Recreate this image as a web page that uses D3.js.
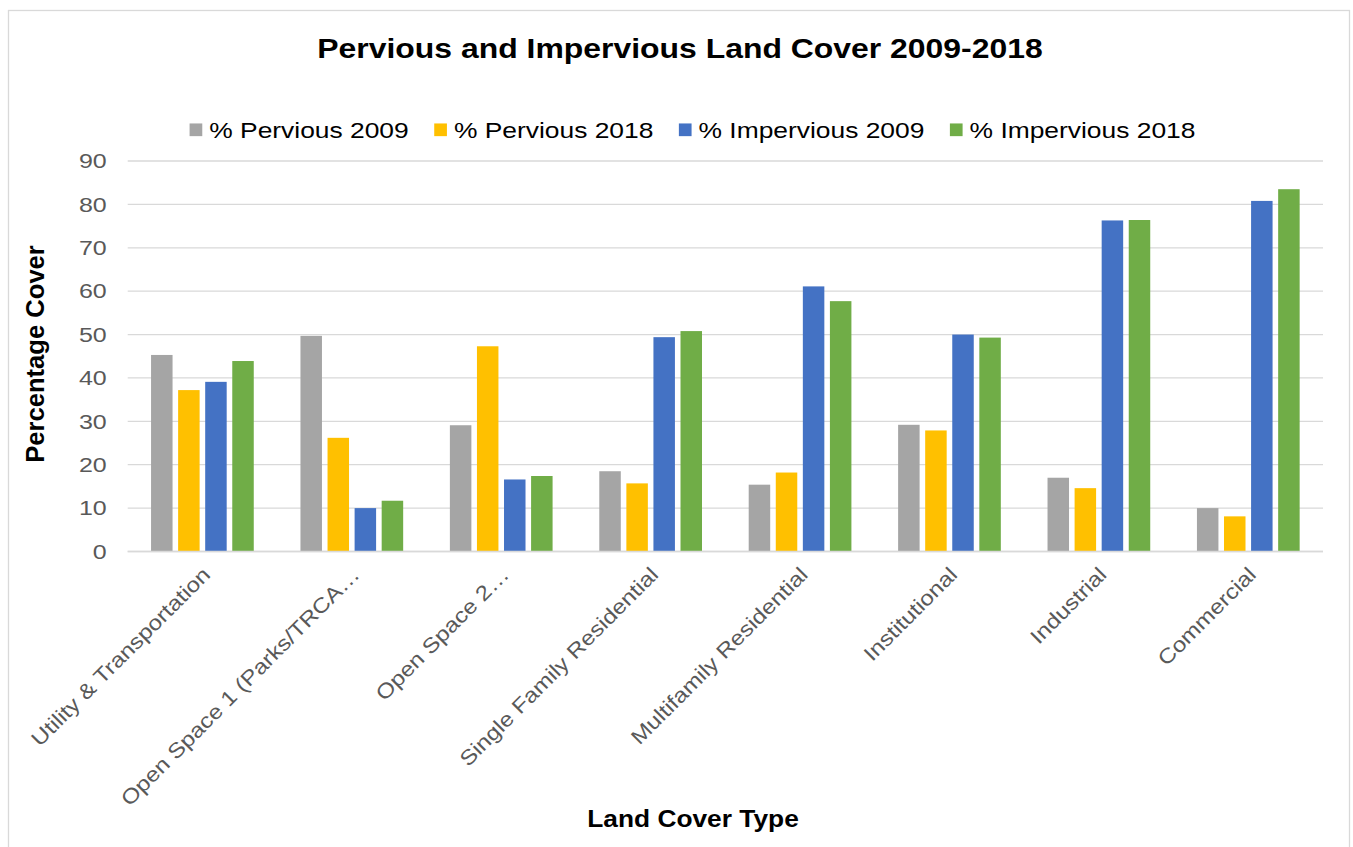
<!DOCTYPE html>
<html>
<head>
<meta charset="utf-8">
<script src="https://cdn.jsdelivr.net/npm/d3@7"></script>
<style>
  html, body { margin: 0; padding: 0; background: #fff; }
  svg { display: block; font-family: "Liberation Sans", Arial, sans-serif; }
</style>
</head>
<body>
<svg id="chart" width="1353" height="847"></svg>
<script>
// ---- data ----
const categories = ["Utility & Transportation", "Open Space 1 (Parks/TRCA\u2026", "Open Space 2\u2026",
  "Single Family Residential", "Multifamily Residential", "Institutional", "Industrial", "Commercial"];
const seriesNames = ["% Pervious 2009", "% Pervious 2018", "% Impervious 2009", "% Impervious 2018"];
const pervious2009   = [45.3, 49.7, 29.1, 18.5, 15.4, 29.2, 17.0, 10.0];
const pervious2018   = [37.2, 26.2, 47.3, 15.7, 18.2, 27.9, 14.6, 8.1];
const impervious2009 = [39.1, 10.0, 16.6, 49.4, 61.1, 50.0, 76.3, 80.8];
const impervious2018 = [43.9, 11.7, 17.4, 50.8, 57.7, 49.3, 76.4, 83.5];
const yTicks = [0, 10, 20, 30, 40, 50, 60, 70, 80, 90];
const colors = ["#A5A5A5", "#FFC000", "#4472C4", "#70AD47"];

const seriesValues = [pervious2009, pervious2018, impervious2009, impervious2018];

const svg = d3.select("#chart");

// chart border
svg.append("rect").attr("x", 8.5).attr("y", 10.5).attr("width", 1341).attr("height", 860)
  .attr("fill", "#fff").attr("stroke", "#d9d9d9").attr("stroke-width", 1.3);

const plot = { left: 127.7, right: 1323, top: 161, bottom: 551.5 };

const x0 = d3.scaleBand().domain(categories).range([plot.left, plot.right])
  .paddingInner(0.3126).paddingOuter(0.1563);
const x1 = d3.scaleBand().domain(seriesNames).range([0, x0.bandwidth()])
  .paddingInner(0.206).paddingOuter(0);
const y = d3.scaleLinear().domain([0, 90]).range([plot.bottom, plot.top]);

// gridlines
svg.append("g").selectAll("line").data(yTicks).join("line")
  .attr("x1", plot.left).attr("x2", plot.right)
  .attr("y1", d => y(d)).attr("y2", d => y(d))
  .attr("stroke", "#d9d9d9").attr("stroke-width", 1.3);

// y tick labels
svg.append("g").selectAll("text").data(yTicks).join("text")
  .attr("transform", d => `translate(106.7,${y(d) + 7.3}) scale(1.22,1)`)
  .attr("text-anchor", "end").attr("font-size", 20.5).attr("fill", "#595959")
  .text(d => d);

// bars
const groups = svg.append("g").selectAll("g").data(categories).join("g")
  .attr("transform", d => `translate(${x0(d)},0)`);
groups.selectAll("rect").data((c, i) => seriesNames.map((s, k) => ({ s, k, v: seriesValues[k][i] })))
  .join("rect")
  .attr("x", d => x1(d.s)).attr("width", x1.bandwidth())
  .attr("y", d => y(d.v)).attr("height", d => y(0) - y(d.v))
  .attr("fill", d => colors[d.k]);

// x axis line
svg.append("line").attr("x1", plot.left).attr("x2", plot.right)
  .attr("y1", y(0)).attr("y2", y(0)).attr("stroke", "#d9d9d9").attr("stroke-width", 1.3);

// category labels
svg.append("g").selectAll("text").data(categories).join("text")
  .attr("transform", d => `translate(${x0(d) + x0.bandwidth() / 2 + 9},576) rotate(-45) scale(1.16,1)`)
  .attr("text-anchor", "end").attr("font-size", 20.8).attr("fill", "#595959")
  .text(d => d);

// title
svg.append("text").attr("transform", "translate(680,58) scale(1.14,1)")
  .attr("text-anchor", "middle").attr("font-size", 28).attr("font-weight", "bold").attr("fill", "#000")
  .text("Pervious and Impervious Land Cover 2009-2018");

// axis titles
svg.append("text").attr("transform", "translate(43.5,354) rotate(-90)")
  .attr("text-anchor", "middle").attr("font-size", 25.6).attr("font-weight", "bold").attr("fill", "#000")
  .text("Percentage Cover");
svg.append("text").attr("transform", "translate(693,826.7) scale(1.13,1)")
  .attr("text-anchor", "middle").attr("font-size", 23.3).attr("font-weight", "bold").attr("fill", "#000")
  .text("Land Cover Type");

// legend
const legStretch = 1.2, legFont = 22, sq = 12.7, sqGap = 7, itemGap = 25.5;
const leg = svg.append("g");
const items = seriesNames.map((name, k) => {
  const g = leg.append("g");
  g.append("rect").attr("x", 0).attr("y", -sq / 2).attr("width", sq).attr("height", sq).attr("fill", colors[k]);
  const t = g.append("text").attr("font-size", legFont).attr("fill", "#000")
    .attr("transform", `translate(${sq + sqGap},7.8) scale(${legStretch},1)`).text(name);
  const w = sq + sqGap + t.node().getComputedTextLength() * legStretch;
  return { g, w };
});
const totalW = d3.sum(items, d => d.w) + itemGap * (items.length - 1);
let cx = 692.5 - totalW / 2;
items.forEach(it => { it.g.attr("transform", `translate(${cx},129.8)`); cx += it.w + itemGap; });
</script>
</body>
</html>
